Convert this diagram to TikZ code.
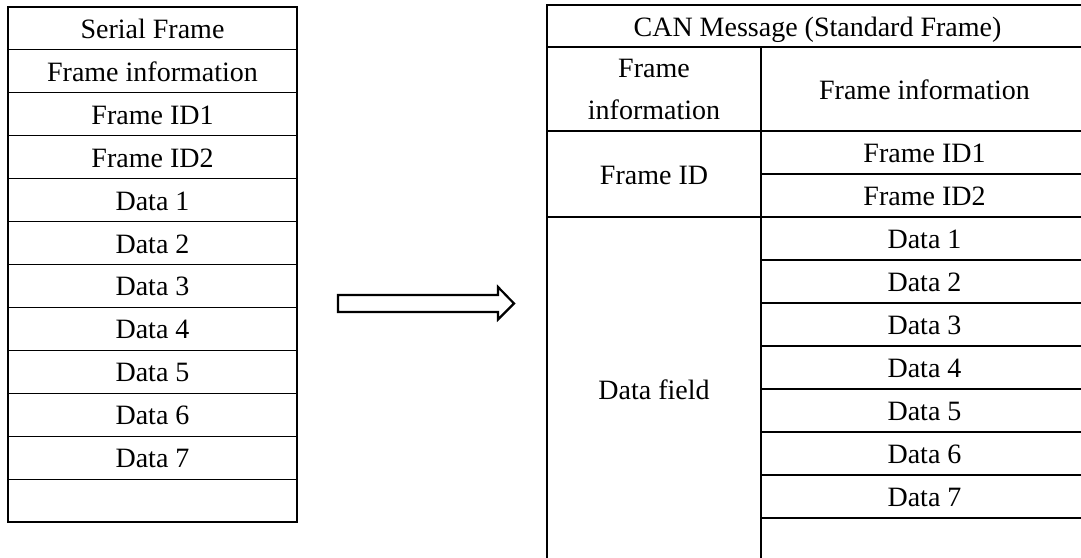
\documentclass[tikz,border=0pt]{standalone}
\usepackage{fontspec}
\setmainfont{Liberation Serif}
\usetikzlibrary{calc}
\begin{document}
\begin{tikzpicture}[x=1pt,y=-1pt,
  cell/.style={draw, line width=1.1pt, rectangle, inner sep=0pt, outer sep=0pt,
    font=\fontsize{28}{42}\selectfont},
  one/.style={text height=20pt, text depth=0pt},
  blockarrow/.style={draw, line width=2.2pt, line join=miter, fill=white}]
\useasboundingbox (0,0) rectangle (1081,557);
\clip (0,0) rectangle (1081,557);
% left table: serial frame
\foreach \t [count=\i from 0] in {Serial Frame,Frame information,Frame ID1,Frame ID2,Data 1,Data 2,Data 3,Data 4,Data 5,Data 6,Data 7,{}}
  \node[cell, one, minimum width=289pt, minimum height=42.92pt] (l\i) at (152.5,{7+42.92*(\i+0.5)}) {\t};
% right table: CAN message
\node[cell, one, minimum width=541pt, minimum height=42pt] (rh) at (817.5,26) {CAN Message (Standard Frame)};
\node[cell, align=center, minimum width=214pt, minimum height=84pt] (rfi) at (654,89) {Frame\\information};
\node[cell, one, minimum width=327pt, minimum height=84pt] (rfi2) at (924.5,89) {Frame information};
\node[cell, one, minimum width=214pt, minimum height=86pt] (rid) at (654,174) {Frame ID};
\node[cell, one, minimum width=327pt, minimum height=43pt] (rid1) at (924.5,152.5) {Frame ID1};
\node[cell, one, minimum width=327pt, minimum height=43pt] (rid2) at (924.5,195.5) {Frame ID2};
\node[cell, one, minimum width=214pt, minimum height=344pt] (rdf) at (654,389) {Data field};
\foreach \t [count=\i from 0] in {Data 1,Data 2,Data 3,Data 4,Data 5,Data 6,Data 7,{}}
  \node[cell, one, minimum width=327pt, minimum height=43pt] (rd\i) at (924.5,{217+43*(\i+0.5)}) {\t};
% block arrow
\coordinate (as) at (338,303.5);
\coordinate (at) at (514,303.5);
\draw[blockarrow] ($(as)+(0,-8.5)$) -- ++(160,0) -- ++(0,-8) -- (at) -- ++(-16,16) -- ++(0,-7.5) -- ++(-160,0) -- cycle;
\end{tikzpicture}
\end{document}
